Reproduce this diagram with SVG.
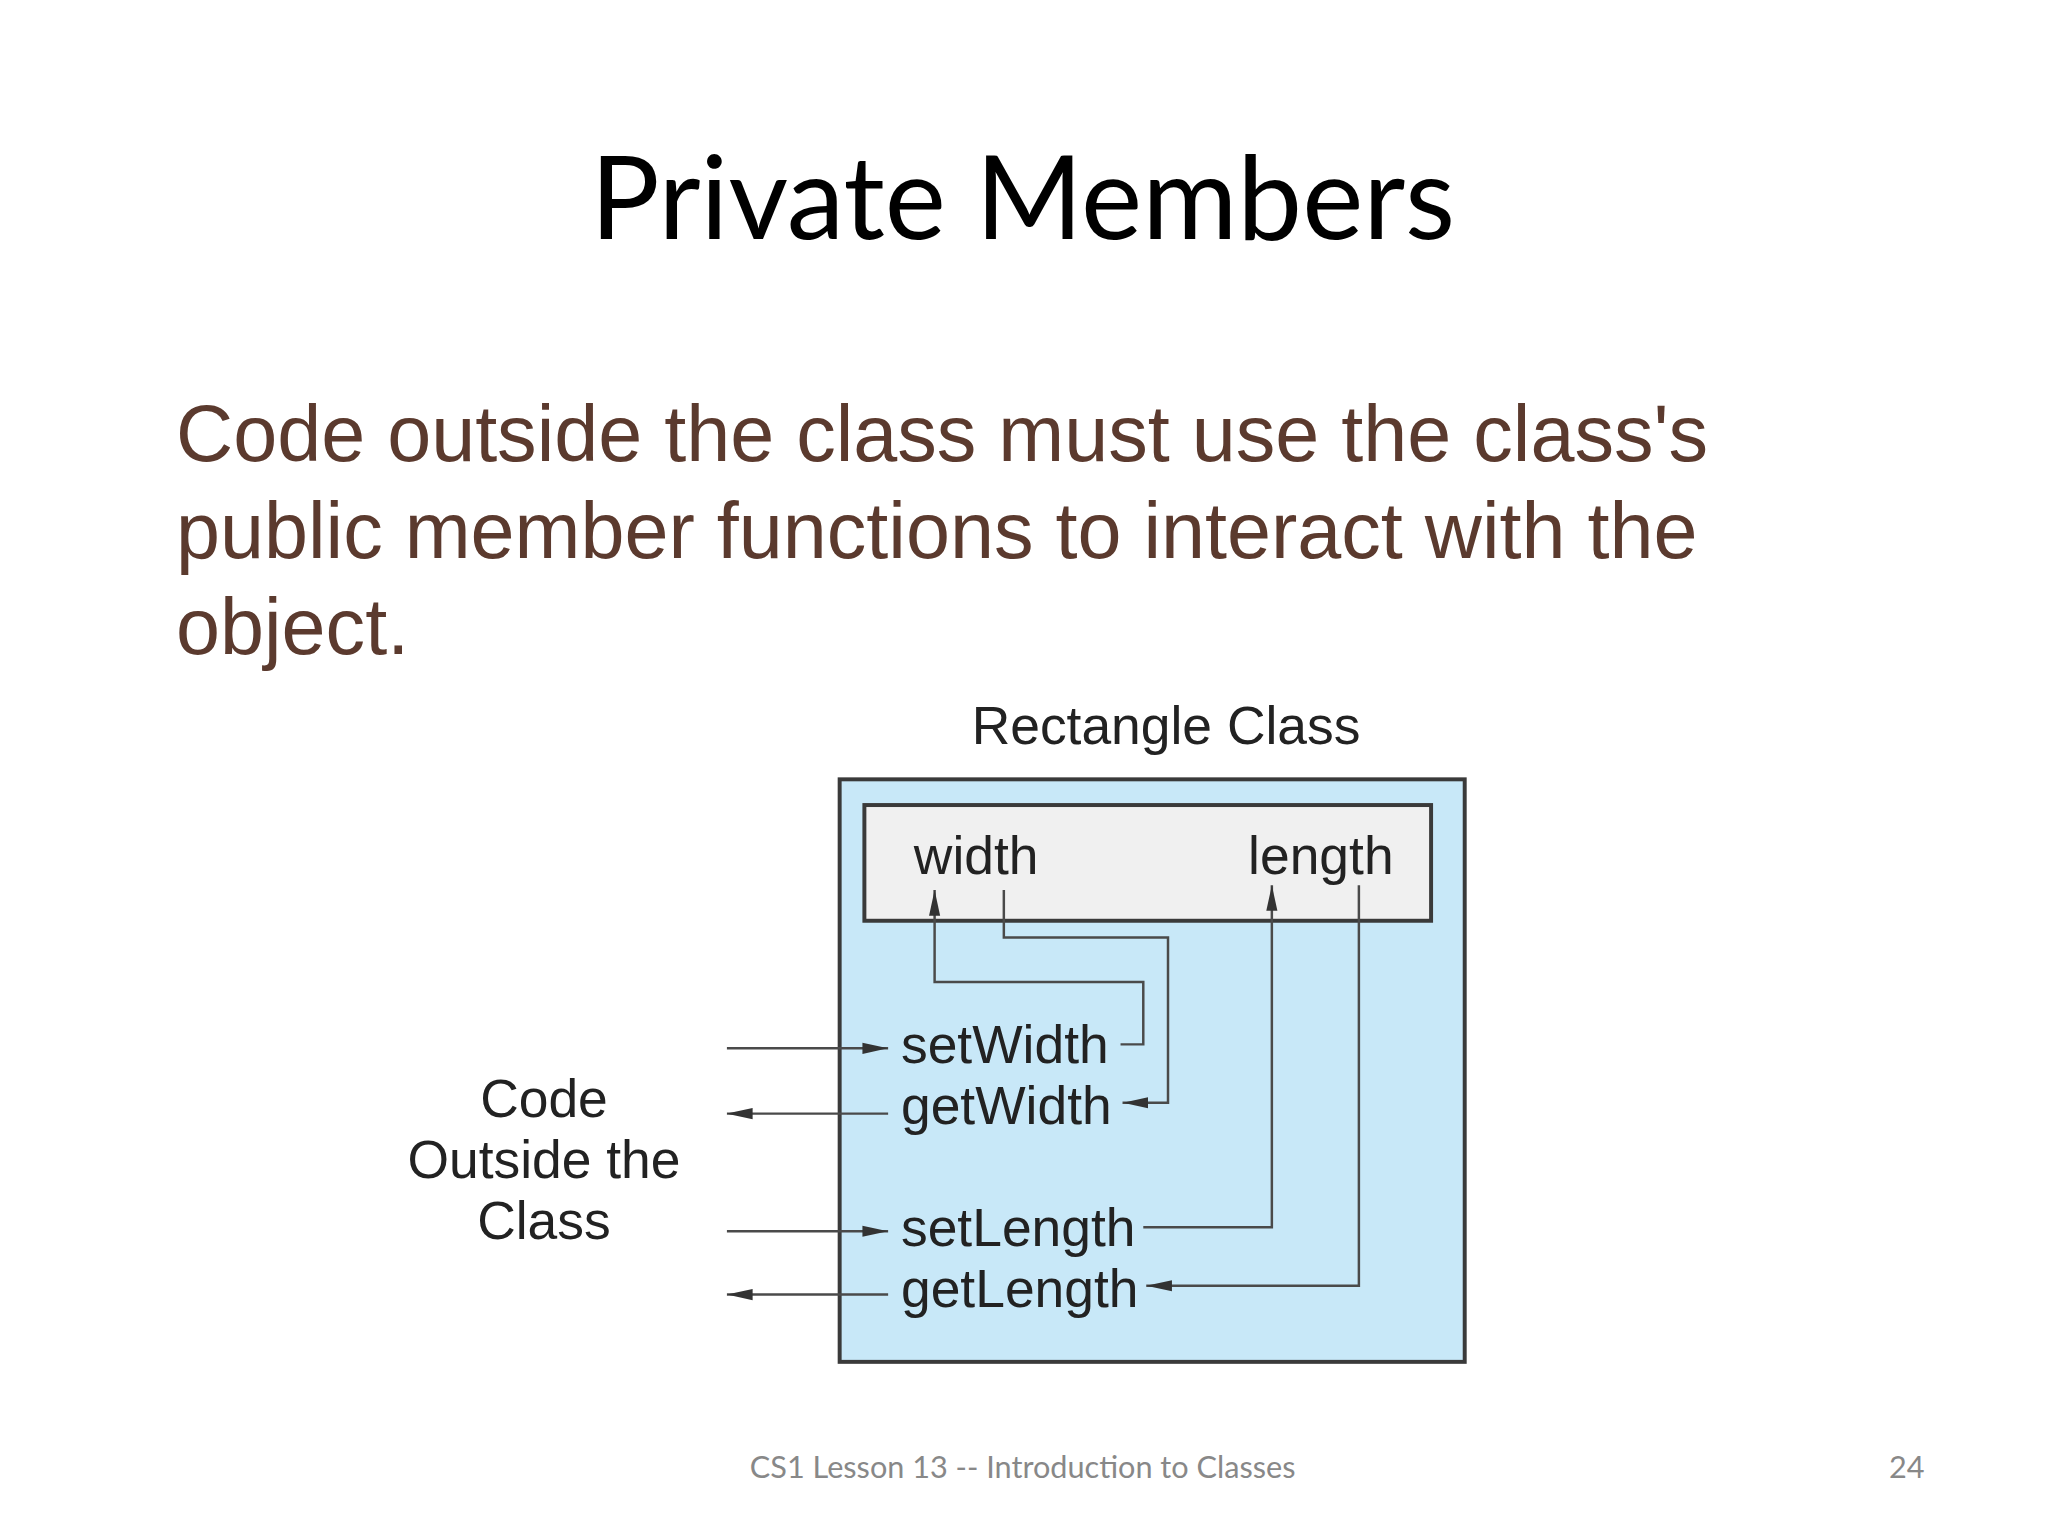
<svg xmlns="http://www.w3.org/2000/svg" width="2048" height="1536" viewBox="0 0 2048 1536">
<style>
.d{font-family:"Liberation Sans",Arial,sans-serif;font-size:54px;fill:#222}
.ln{fill:none;stroke:#4a4a4a;stroke-width:2.5}
</style>
<defs><marker id="ah2" viewBox="0 0 10 10" refX="10" refY="5" markerWidth="26" markerHeight="14" markerUnits="userSpaceOnUse" orient="auto" preserveAspectRatio="none"><path d="M0,1 L10,5 L0,9 z" fill="#333"/></marker></defs>
<rect width="2048" height="1536" fill="#fff"/>
<g transform="scale(0.989)">
<text x="1034" y="242" text-anchor="middle" font-family="Lato,'Open Sans',sans-serif" font-size="117" fill="#000">Private Members</text>
<g font-family="'Liberation Sans',Arial,sans-serif" font-size="80" fill="#5b3a2e">
<text x="178" y="466">Code outside the class must use the class's</text>
<text x="178" y="564">public member functions to interact with the</text>
<text x="178" y="661">object.</text>
</g>
<g id="class">
<rect x="849" y="788" width="632" height="589" fill="#c8e8f8" stroke="#3a3a3a" stroke-width="4"/>
<text class="d" x="1179" y="752" text-anchor="middle">Rectangle Class</text>
</g>
<g id="members">
<rect x="874" y="814" width="573" height="117" fill="#f0f0f0" stroke="#3a3a3a" stroke-width="4"/>
<text class="d" x="924" y="884">width</text>
<text class="d" x="1262" y="884">length</text>
</g>
<g id="funcs">
<text class="d" x="911" y="1075">setWidth</text>
<text class="d" x="911" y="1137">getWidth</text>
<text class="d" x="911" y="1260">setLength</text>
<text class="d" x="911" y="1322">getLength</text>
</g>
<g id="outside">
<text class="d" x="550" y="1129" text-anchor="middle">Code</text>
<text class="d" x="550" y="1191" text-anchor="middle">Outside the</text>
<text class="d" x="550" y="1253" text-anchor="middle">Class</text>
</g>
<g id="connectors">
<path class="ln" d="M1133,1056 H1156 V993 H945 V900" marker-end="url(#ah2)"/>
<path class="ln" d="M1015,900 V948 H1181 V1115 H1135" marker-end="url(#ah2)"/>
<path class="ln" d="M1156,1241 H1286 V895" marker-end="url(#ah2)"/>
<path class="ln" d="M1374,895 V1300 H1159" marker-end="url(#ah2)"/>
<path class="ln" d="M735,1060 H898" marker-end="url(#ah2)"/>
<path class="ln" d="M898,1126 H735" marker-end="url(#ah2)"/>
<path class="ln" d="M735,1245 H898" marker-end="url(#ah2)"/>
<path class="ln" d="M898,1309 H735" marker-end="url(#ah2)"/>
</g>
<text x="1034" y="1494" text-anchor="middle" font-family="Lato,'Open Sans',sans-serif" font-size="31" fill="#888">CS1 Lesson 13 -- Introduction to Classes</text>
<text x="1928" y="1494" text-anchor="middle" font-family="Lato,'Open Sans',sans-serif" font-size="31" fill="#888">24</text>
</g>
</svg>
